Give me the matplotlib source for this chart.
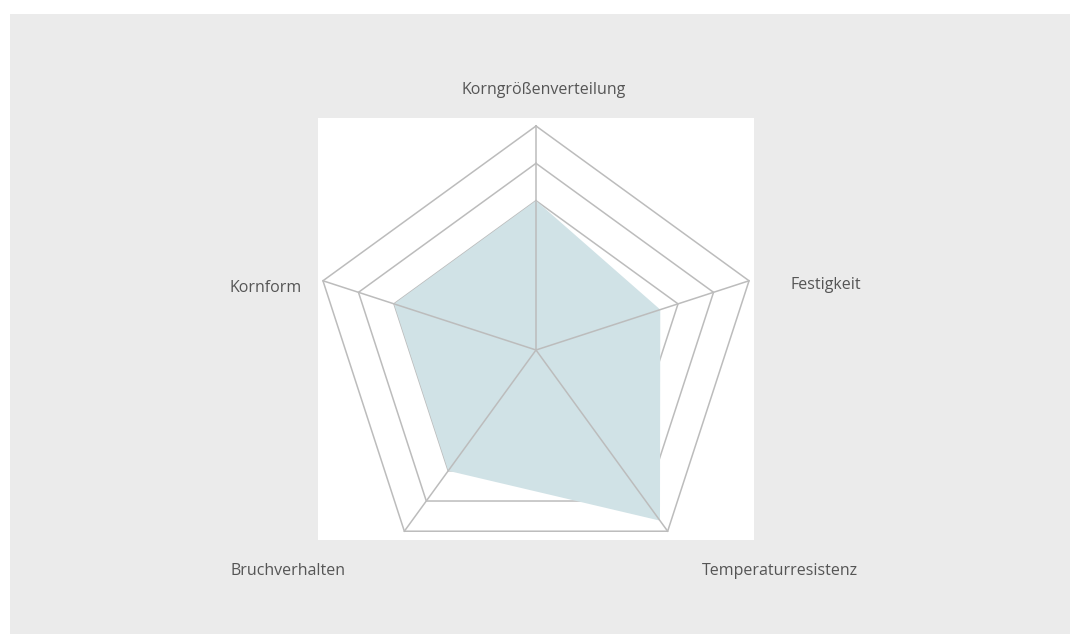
import numpy as np
import matplotlib.pyplot as plt
from matplotlib.patches import Rectangle

# radar data (scale 0..6)
categories = ['Korngrößenverteilung', 'Festigkeit', 'Temperaturresistenz',
              'Bruchverhalten', 'Kornform']
values = [4.0, 3.5, 5.65, 4.0, 4.0]
grid_levels = [1, 2, 3, 4, 5, 6]
r_max = 6

fig = plt.figure(figsize=(10.7, 6.34), dpi=100, facecolor='white')
W, H = 1070, 634

# gray panel + white plot area (pixel boxes)
fig.patches.append(Rectangle((10 / W, 0), 1 - 10 / W, (H - 14) / H,
                             transform=fig.transFigure, facecolor='#ebebeb',
                             edgecolor='none', zorder=-2))
fig.patches.append(Rectangle((318 / W, (H - 540) / H), 436 / W, 422 / H,
                             transform=fig.transFigure, facecolor='white',
                             edgecolor='none', zorder=-1))

# polar axes centred at (536, 350), radius 224 px
ax = fig.add_axes([312 / W, (H - 574) / H, 448 / W, 448 / H], projection='polar')
ax.set_facecolor('none')
ax.set_theta_offset(np.pi / 2)
ax.set_theta_direction(-1)
ax.set_ylim(0, r_max)
ax.grid(False)
ax.spines['polar'].set_visible(False)
ax.set_xticks([])
ax.set_yticks([])

n = len(categories)
angles = np.arange(n) * 2 * np.pi / n
ang_c = np.append(angles, angles[0])

grid_col = '#bcbcbc'
for lv in grid_levels:
    ax.plot(ang_c, [lv] * (n + 1), color=grid_col, lw=1.1, zorder=1, clip_on=False)

ax.fill(ang_c, values + values[:1], color='#d0e2e6', lw=0, zorder=2)

for a in angles:
    ax.plot([a, a], [0, r_max], color=grid_col, lw=1.1, zorder=3, clip_on=False)

# category labels, offsets in pixels from the outer vertices
label_off = [(8, 36, 'center'), (41, -4, 'left'), (34, -40, 'left'),
             (-59, -40, 'right'), (-21, -7, 'right')]
for a, name, (dx, dy, ha) in zip(angles, categories, label_off):
    ax.annotate(name, xy=(a, r_max), xytext=(dx * 0.72, dy * 0.72),
                textcoords='offset points', ha=ha, va='center',
                fontsize=11.5, color='#555555', family='Open Sans',
                annotation_clip=False)

fig.savefig('out.png', dpi=100)
